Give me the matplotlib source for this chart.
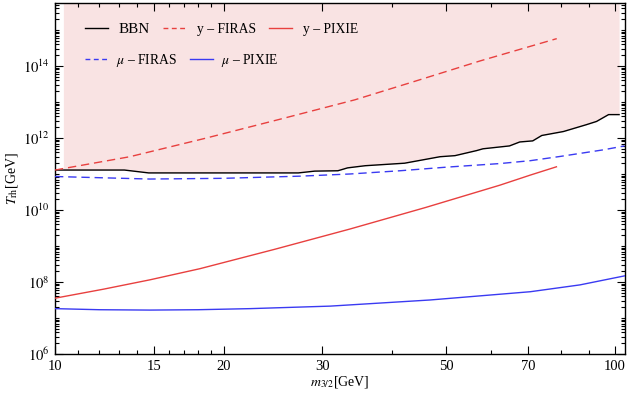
import numpy as np
import matplotlib
matplotlib.use("Agg")
import matplotlib.pyplot as plt
from matplotlib.lines import Line2D
from matplotlib.ticker import FixedLocator, NullFormatter, FixedFormatter

plt.rcParams['font.family'] = ['Liberation Serif', 'DejaVu Serif']
plt.rcParams['mathtext.fontset'] = 'stix'

# ---- data (m_3/2 in GeV, log10 T_rh in GeV) ----
bbn_m = [10.0, 10.35, 13.3, 14.7, 20.0, 27.2, 29.1, 32.0, 33.3, 35.8, 42.1, 48.7, 51.8, 56.6,
         58.1, 64.8, 67.6, 71.3, 74.0, 80.9, 88.9, 92.7, 97.4, 101.7]
bbn_logT = [11.11, 11.11, 11.11, 11.03, 11.03, 11.03, 11.08, 11.09, 11.17, 11.23, 11.30, 11.48, 11.51, 11.65,
            11.70, 11.78, 11.89, 11.92, 12.07, 12.18, 12.37, 12.46, 12.65, 12.65]

yfiras_m = [10.0, 13.6, 18.53, 25.2, 34.3, 43.6, 57.4, 78.7]
yfiras_logT = [11.11, 11.48, 11.99, 12.52, 13.06, 13.56, 14.14, 14.76]

ypixie_m = [10.0, 12.2, 14.77, 18.15, 24.7, 33.6, 45.9, 62.3, 70.6, 78.6]
ypixie_logT = [7.55, 7.80, 8.06, 8.37, 8.91, 9.47, 10.07, 10.69, 10.97, 11.20]

mufiras_m = [10.0, 14.77, 20.0, 27.4, 33.6, 41.3, 50.0, 62.3, 70.6, 80.0, 95.2, 104.0]
mufiras_logT = [10.93, 10.86, 10.88, 10.94, 11.00, 11.09, 11.19, 11.29, 11.37, 11.49, 11.67, 11.78]

mupixie_m = [10.0, 12.0, 14.77, 18.0, 22.3, 31.0, 46.7, 70.6, 86.6, 104.0]
mupixie_logT = [7.26, 7.23, 7.22, 7.23, 7.26, 7.33, 7.50, 7.73, 7.92, 8.17]

xmajor = [10, 15, 20, 30, 50, 70, 100]
xmajor_labels = ['10', '15', '20', '30', '50', '70', '100']
ymajor_exp = [6, 8, 10, 12, 14]

RED = '#E8403F'
BLUE = '#3A3AF2'
PINK = '#F9E3E3'

fig = plt.figure(figsize=(6.32, 3.94), dpi=100)
ax = fig.add_axes([55/632, 40/394, 570/632, 351/394])

xmin, xmax = 10.0, 104.2
ymin, ymax = 1e6, 10**15.75
ax.set_xscale('log')
ax.set_yscale('log')
ax.set_xlim(xmin, xmax)
ax.set_ylim(ymin, ymax)

bm = np.array(bbn_m)
bT = 10**np.array(bbn_logT)
mask = bm >= 10.35
ax.fill_between(bm[mask], bT[mask], ymax, color=PINK, lw=0, zorder=1)

lw = 1.0
ax.plot(bbn_m, bT, color='black', lw=lw, zorder=3)
ax.plot(yfiras_m, 10**np.array(yfiras_logT), color=RED, lw=lw, ls=(0, (6, 3.5)), zorder=3)
ax.plot(ypixie_m, 10**np.array(ypixie_logT), color=RED, lw=lw, zorder=3)
ax.plot(mufiras_m, 10**np.array(mufiras_logT), color=BLUE, lw=lw, ls=(0, (6, 3.5)), zorder=3)
ax.plot(mupixie_m, 10**np.array(mupixie_logT), color=BLUE, lw=lw, zorder=3)

# ticks
xminor = [v for v in list(range(11, 20)) + list(range(20, 101, 10)) if v not in xmajor]
ax.xaxis.set_major_locator(FixedLocator(xmajor))
ax.xaxis.set_major_formatter(FixedFormatter(xmajor_labels))
ax.xaxis.set_minor_locator(FixedLocator(xminor))
ax.xaxis.set_minor_formatter(NullFormatter())

yticks_major = [10.0**e for e in ymajor_exp]
yminor = []
for e in range(6, 16):
    for k in range(1, 10):
        v = k * 10.0**e
        if v not in yticks_major and v < ymax:
            yminor.append(v)
ax.yaxis.set_major_locator(FixedLocator(yticks_major))
ax.yaxis.set_major_formatter(FixedFormatter([r'$10^{%d}$' % e for e in ymajor_exp]))
ax.yaxis.set_minor_locator(FixedLocator(yminor))
ax.yaxis.set_minor_formatter(NullFormatter())

ax.tick_params(which='both', direction='in', top=True, right=True, width=0.8, colors='black')
ax.tick_params(which='major', length=6, labelsize=10.5, pad=4)
ax.tick_params(which='minor', length=3)
for s in ax.spines.values():
    s.set_linewidth(1.0)

ax.set_xlabel(r'$m_{3/2}$[GeV]', fontsize=10, labelpad=1)
ax.set_ylabel(r'$T_{\rm rh}$[GeV]', fontsize=10, labelpad=2)

# legends
fs = 9.8
h1 = [Line2D([], [], color='black', lw=lw),
      Line2D([], [], color=RED, lw=lw, ls=(0, (3.5, 2.5))),
      Line2D([], [], color=RED, lw=lw)]
l1 = ['BBN', 'y – FIRAS', 'y – PIXIE']
h2 = [Line2D([], [], color=BLUE, lw=lw, ls=(0, (3.5, 2.5))),
      Line2D([], [], color=BLUE, lw=lw)]
l2 = [r'$\mu$ – FIRAS', r'$\mu$ – PIXIE']

leg1 = ax.legend(h1, l1, ncol=3, frameon=False, loc='center left', bbox_to_anchor=(0.0526, 0.9245),
                 fontsize=fs, handlelength=1.7, handletextpad=0.75, columnspacing=1.0, borderpad=0,
                 borderaxespad=0)
for t in leg1.get_texts():
    if t.get_text() == 'BBN':
        t.set_fontsize(11)
ax.add_artist(leg1)
leg2 = ax.legend(h2, l2, ncol=2, frameon=False, loc='center left', bbox_to_anchor=(0.0526, 0.836),
                 fontsize=fs, handlelength=1.7, handletextpad=0.55, columnspacing=1.0, borderpad=0,
                 borderaxespad=0)

fig.savefig('out.png', dpi=100)
